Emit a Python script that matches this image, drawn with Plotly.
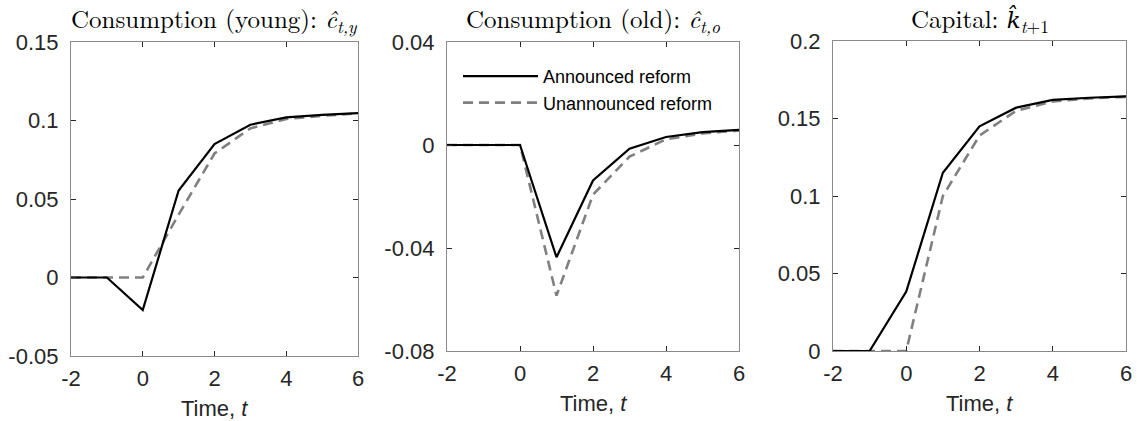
import plotly.graph_objects as go

W, H = 1137, 421

t = [-2, -1, 0, 1, 2, 3, 4, 5, 6]

cy_announced = [0, 0, -0.0207, 0.0554, 0.085, 0.0973, 0.102, 0.1036, 0.1047]
cy_unannounced = [0, 0, 0, 0.040, 0.079, 0.095, 0.101, 0.103, 0.1045]

co_announced = [0, 0, 0, -0.0436, -0.0138, -0.0014, 0.0031, 0.005, 0.0059]
co_unannounced = [0, 0, 0, -0.0585, -0.0193, -0.0045, 0.0022, 0.0045, 0.0056]

k_announced = [0, 0, 0.0383, 0.115, 0.145, 0.157, 0.162, 0.1634, 0.1643]
k_unannounced = [0, 0, 0, 0.100, 0.139, 0.155, 0.161, 0.163, 0.164]

titles = [
    "Consumption (young): <i>ĉ</i><sub><i>t,y</i></sub>",
    "Consumption (old): <i>ĉ</i><sub><i>t,o</i></sub>",
    "Capital: <span style=\"font-family:'DejaVu Serif';font-size:23px\"><i>k̂</i></span><sub><i>t</i>+1</sub>",
]
xlabel = "Time, <i>t</i>"
series_names = ["Announced reform", "Unannounced reform"]

y_ranges = [[-0.05, 0.15], [-0.08, 0.04], [0, 0.2]]
y_ticks = [
    [-0.05, 0, 0.05, 0.1, 0.15],
    [-0.08, -0.04, 0, 0.04],
    [0, 0.05, 0.1, 0.15, 0.2],
]
y_ticktext = [
    ["-0.05", "0", "0.05", "0.1", "0.15"],
    ["-0.08", "-0.04", "0", "0.04"],
    ["0", "0.05", "0.1", "0.15", "0.2"],
]
x_ticks = [-2, 0, 2, 4, 6]

# plot-area boxes in pixels: (left, right, top, bottom)
boxes = [(71, 358, 42, 356), (447, 739, 42, 351), (833, 1126, 41, 351)]

data = [
    (cy_announced, cy_unannounced),
    (co_announced, co_unannounced),
    (k_announced, k_unannounced),
]

fig = go.Figure()
frame_color = "#8a8a8a"
tick_font = dict(family="Liberation Sans, Arial, sans-serif", size=22, color="#262626")
title_font = dict(family="Latin Modern Roman, Liberation Serif, serif", size=25, color="#000000")

for i, ((ann, unann), box) in enumerate(zip(data, boxes)):
    n = i + 1
    xa = "x" if n == 1 else f"x{n}"
    ya = "y" if n == 1 else f"y{n}"
    show = (n == 2)
    fig.add_trace(go.Scatter(
        x=t, y=unann, mode="lines", name=series_names[1],
        line=dict(color="#808080", width=2.6, dash="10px,6px"),
        xaxis=xa, yaxis=ya, showlegend=show, legendrank=2,
    ))
    fig.add_trace(go.Scatter(
        x=t, y=ann, mode="lines", name=series_names[0],
        line=dict(color="#000000", width=2.2),
        xaxis=xa, yaxis=ya, showlegend=show, legendrank=1,
    ))
    l, r, tp, b = box
    xdom = [l / W, r / W]
    ydom = [1 - b / H, 1 - tp / H]
    xkey = "xaxis" if n == 1 else f"xaxis{n}"
    ykey = "yaxis" if n == 1 else f"yaxis{n}"
    fig.update_layout(**{
        xkey: dict(
            domain=xdom, range=[-2, 6], anchor=ya, automargin=False,
            tickvals=x_ticks, ticktext=[str(v) for v in x_ticks],
            ticks="inside", ticklen=5, tickcolor="#262626", tickwidth=1,
            showline=True, linecolor=frame_color, linewidth=1.2, mirror="allticks",
            showgrid=False, zeroline=False, tickfont=tick_font,
            ticklabelstandoff=2,
        ),
        ykey: dict(
            domain=ydom, range=y_ranges[i], anchor=xa, automargin=False,
            tickvals=y_ticks[i], ticktext=y_ticktext[i],
            ticks="inside", ticklen=5, tickcolor="#262626", tickwidth=1,
            showline=True, linecolor=frame_color, linewidth=1.2, mirror="allticks",
            showgrid=False, zeroline=False, tickfont=tick_font,
            ticklabelstandoff=7,
        ),
    })
    fig.add_annotation(
        text=titles[i], xref="paper", yref="paper",
        x=(l + r) / 2 / W, y=1 - 19 / H, xanchor="center", yanchor="middle",
        showarrow=False, font=title_font,
    )
    fig.add_annotation(
        text=xlabel, xref="paper", yref="paper",
        x=(l + r) / 2 / W, y=1 - (b + 52) / H, xanchor="center", yanchor="middle",
        showarrow=False, font=tick_font,
    )

fig.update_layout(
    width=W, height=H,
    margin=dict(l=0, r=0, t=0, b=0),
    paper_bgcolor="white", plot_bgcolor="white",
    legend=dict(
        x=458 / W, y=1 - 58 / H, xanchor="left", yanchor="top",
        bgcolor="rgba(0,0,0,0)", borderwidth=0,
        font=dict(family="Liberation Sans, Arial, sans-serif", size=18, color="#000000"),
        itemwidth=75, tracegroupgap=0,
    ),
)

fig.write_html("out.html")
